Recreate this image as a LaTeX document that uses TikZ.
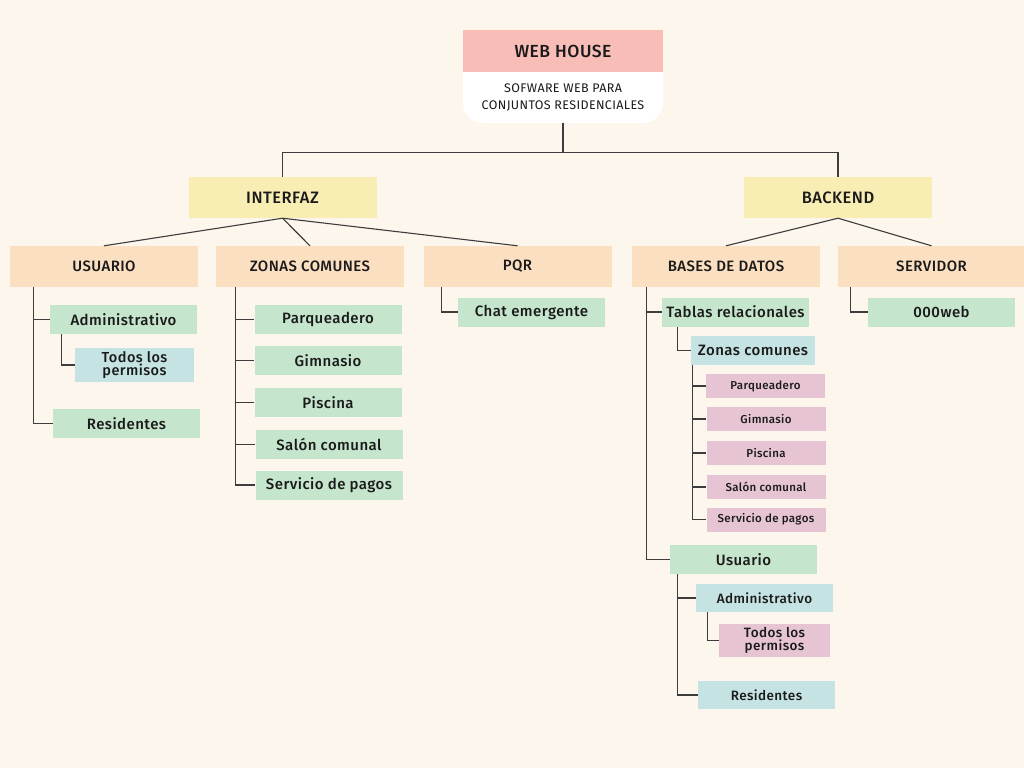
\documentclass[tikz,border=0pt]{standalone}
\usepackage{fontspec}
\setmainfont{Fira Sans}[BoldFont=* Medium, LetterSpace=3]
\usetikzlibrary{calc}

\definecolor{paper}{HTML}{FDF6EC}
\definecolor{titlered}{HTML}{F8BDB6}
\definecolor{headyellow}{HTML}{F8EDB3}
\definecolor{branchpeach}{HTML}{FBDFC1}
\definecolor{leafgreen}{HTML}{C5E5CC}
\definecolor{leafblue}{HTML}{C4E3E2}
\definecolor{leafpink}{HTML}{E6C4D3}
\definecolor{inkdark}{HTML}{1A1A1A}

\begin{document}
\begin{tikzpicture}[x=1pt, y=-1pt]
            \tikzstyle{box} = [rectangle, inner sep=0pt, align=center, text=inkdark]
            \tikzstyle{title} = [box, fill=titlered, minimum width=200, minimum height=42, font=\bfseries\fontsize{17.5}{19}\selectfont]
            \tikzstyle{subtitle} = [box, minimum width=200, minimum height=51, font=\fontsize{12.5}{17}\selectfont]
            \tikzstyle{head} = [box, fill=headyellow, minimum width=188, minimum height=41, font=\bfseries\fontsize{16.5}{19}\selectfont]
            \tikzstyle{branch} = [box, fill=branchpeach, minimum width=188, minimum height=41, font=\bfseries\fontsize{15}{17}\selectfont]
            \tikzstyle{leaf} = [box, minimum width=147, minimum height=29, font=\bfseries\fontsize{15}{15}\selectfont]
            \tikzstyle{smallleaf} = [box, fill=leafpink, minimum width=119, minimum height=24, font=\bfseries\fontsize{11.5}{13}\selectfont]
            \tikzstyle{tree} = [draw=inkdark!85, line width=1.1pt]

            \fill[paper] (0,0) rectangle (1024,768);
            \useasboundingbox (0,0) rectangle (1024,768);

            % title
            \fill[white, rounded corners=20] (463,50) rectangle (663,123);
            \node [title] (web) at (563,51) {WEB HOUSE};
            \node [subtitle] (sub) at (563,97.5) {SOFWARE WEB PARA\\CONJUNTOS RESIDENCIALES};

            \node [head] (interfaz) at (282.5,197.5) {INTERFAZ};
            \node [head] (backend) at (838,197.5) {BACKEND};

            \node [branch] (usuario) at (104,266.5) {USUARIO};
            \node [branch] (zonas) at (310,266.5) {ZONAS COMUNES};
            \node [branch] (pqr) at (517.5,266.5) {PQR};
            \node [branch] (bases) at (726,266.5) {BASES DE DATOS};
            \node [branch] (servidor) at (931.5,266.5) {SERVIDOR};

            % interfaz side
            \node [leaf, fill=leafgreen] (uadmin) at (123.5,319.5) {Administrativo};
            \node [leaf, fill=leafblue, minimum width=119, minimum height=34, font=\bfseries\fontsize{14.5}{13}\selectfont] (uperm) at (134.5,365) {Todos los\\permisos};
            \node [leaf, fill=leafgreen] (ures) at (126.5,423.5) {Residentes};

            \node [leaf, fill=leafgreen] (zpar) at (328,319.5) {Parqueadero};
            \node [leaf, fill=leafgreen] (zgim) at (328,360.5) {Gimnasio};
            \node [leaf, fill=leafgreen] (zpis) at (328,402.5) {Piscina};
            \node [leaf, fill=leafgreen] (zsal) at (329,444.5) {Salón comunal};
            \node [leaf, fill=leafgreen] (zser) at (329,485) {Servicio de pagos};

            \node [leaf, fill=leafgreen] (pchat) at (531.5,312) {Chat emergente};

            % backend side
            \node [leaf, fill=leafgreen] (btab) at (735.5,312) {Tablas relacionales};
            \node [leaf, fill=leafblue, minimum width=124] (bzon) at (753,350.5) {Zonas comunes};
            \node [smallleaf] (bpar) at (765.5,386) {Parqueadero};
            \node [smallleaf] (bgim) at (766,419) {Gimnasio};
            \node [smallleaf] (bpis) at (766,453) {Piscina};
            \node [smallleaf] (bsal) at (766,487) {Salón comunal};
            \node [smallleaf] (bser) at (766,519.5) {Servicio de pagos};

            \node [leaf, fill=leafgreen] (busu) at (743.5,559.5) {Usuario};
            \node [leaf, fill=leafblue, minimum width=137, minimum height=28, font=\bfseries\fontsize{13.5}{15}\selectfont] (badm) at (764.5,598) {Administrativo};
            \node [leaf, fill=leafpink, minimum width=111, minimum height=33, font=\bfseries\fontsize{13.5}{13}\selectfont] (bperm) at (774.5,640.5) {Todos los\\permisos};
            \node [leaf, fill=leafblue, minimum width=137, minimum height=28, font=\bfseries\fontsize{13.5}{15}\selectfont] (bres) at (766.5,695) {Residentes};

            \node [leaf, fill=leafgreen] (sweb) at (941.5,312) {000web};

            % connectors
            \draw [tree] (sub.south) -- ++(0,29) coordinate (split) -| (interfaz.north);
            \draw [tree] (split) -| (backend.north);

            \draw [tree] (interfaz.south) -- (usuario.north);
            \draw [tree] (interfaz.south) -- (zonas.north);
            \draw [tree] (interfaz.south) -- (pqr.north);
            \draw [tree] (backend.south) -- (bases.north);
            \draw [tree] (backend.south) -- (servidor.north);

            \coordinate (ustem) at ($(usuario.south west)+(24,0)$);
            \draw [tree] (ustem) |- (uadmin.west);
            \draw [tree] (ustem) |- (ures.west);
            \draw [tree] ($(uadmin.south west)+(12,0)$) |- (uperm.west);

            \coordinate (zstem) at ($(zonas.south west)+(20,0)$);
            \foreach \leafname in {zpar,zgim,zpis,zsal,zser}
                \draw [tree] (zstem) |- (\leafname.west);

            \draw [tree] ($(pqr.south west)+(18,0)$) |- (pchat.west);

            \coordinate (bstem) at ($(bases.south west)+(15,0)$);
            \draw [tree] (bstem) |- (btab.west);
            \draw [tree] (bstem) |- (busu.west);
            \draw [tree] ($(btab.south west)+(16,0)$) |- (bzon.west);
            \coordinate (pstem) at ($(bzon.south west)+(2,0)$);
            \foreach \leafname in {bpar,bgim,bpis,bsal,bser}
                \draw [tree] (pstem) |- (\leafname.west);
            \coordinate (ustemb) at ($(busu.south west)+(8,0)$);
            \draw [tree] (ustemb) |- (badm.west);
            \draw [tree] (ustemb) |- (bres.west);
            \draw [tree] ($(badm.south west)+(12,0)$) |- (bperm.west);

            \draw [tree] ($(servidor.south west)+(13.5,0)$) |- (sweb.west);
        \end{tikzpicture}
\end{document}
